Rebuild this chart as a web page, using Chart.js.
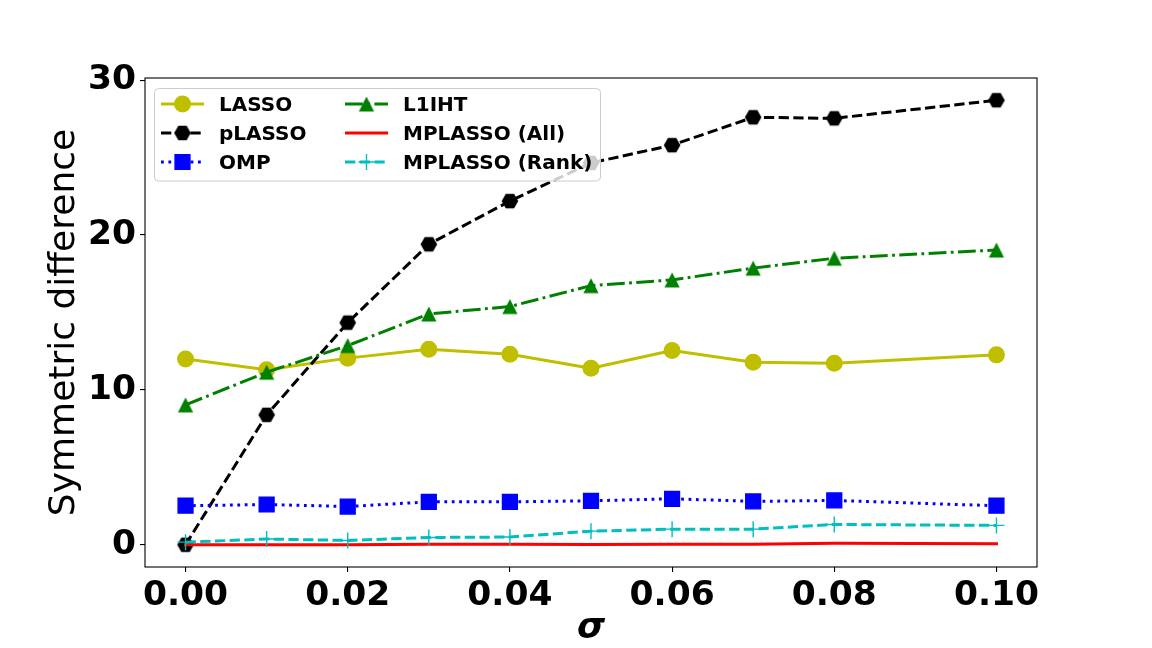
<!DOCTYPE html>
<html>
<head>
<meta charset="utf-8">
<script src="https://cdn.jsdelivr.net/npm/chart.js@4.4.1/dist/chart.umd.min.js"></script>
<style>
  html, body { margin: 0; padding: 0; background: #ffffff; }
  #wrap { width: 1152px; height: 648px; position: relative; }
</style>
</head>
<body>
<div id="wrap"><canvas id="c" width="1152" height="648"></canvas></div>
<script>
// ---- data ----
const sigma = [0, 0.01, 0.02, 0.03, 0.04, 0.05, 0.06, 0.07, 0.08, 0.10];
const lasso = [12.0, 11.3, 12.05, 12.63, 12.3, 11.4, 12.54, 11.79, 11.72, 12.26];
const plasso = [0.0, 8.39, 14.34, 19.4, 22.19, 24.65, 25.8, 27.6, 27.53, 28.7];
const omp = [2.52, 2.6, 2.47, 2.77, 2.77, 2.84, 2.97, 2.8, 2.86, 2.52];
const l1iht = [9.03, 11.14, 12.86, 14.9, 15.38, 16.73, 17.1, 17.86, 18.5, 19.03];
const mplassoAll = [0, 0, 0, 0.03, 0.03, 0.02, 0.03, 0.03, 0.1, 0.07];
const mplassoRank = [0.17, 0.37, 0.28, 0.47, 0.5, 0.88, 1.01, 1.01, 1.31, 1.25];
const seriesNames = ['LASSO', 'pLASSO', 'OMP', 'L1IHT', 'MPLASSO (All)', 'MPLASSO (Rank)'];
const xTicks = [0, 0.02, 0.04, 0.06, 0.08, 0.10];
const xTickLabels = ['0.00', '0.02', '0.04', '0.06', '0.08', '0.10'];
const yTicks = [0, 10, 20, 30];
const yTickLabels = ['0', '10', '20', '30'];
const xTitle = 'σ';
const yTitle = 'Symmetric difference';

// ---- marker images ----
function makeCanvas(size, drawFn) {
  const c = document.createElement('canvas');
  c.width = size; c.height = size;
  const g = c.getContext('2d');
  drawFn(g, size / 2);
  return c;
}
const triangleImg = makeCanvas(20, (g, m) => {
  g.fillStyle = '#008000';
  g.beginPath();
  g.moveTo(m, m - 7.6);
  g.lineTo(m + 7.6, m + 7.4);
  g.lineTo(m - 7.6, m + 7.4);
  g.closePath();
  g.fill();
});
const hexImg = makeCanvas(20, (g, m) => {
  g.fillStyle = '#000000';
  g.beginPath();
  const R = 8.3;
  for (let k = 0; k < 6; k++) {
    const a = k * Math.PI / 3;
    const px = m + R * Math.cos(a), py = m + R * Math.sin(a);
    if (k === 0) g.moveTo(px, py); else g.lineTo(px, py);
  }
  g.closePath();
  g.fill();
});

const LW = 3;
const dashed = [10.3, 4.4];
const dashdot = [17.8, 4.4, 2.8, 4.4];
const dotted = [2.8, 4.6];

function pts(arr) { return sigma.map((x, i) => ({ x: x, y: arr[i] })); }

const styles = [
  { color: '#bfbf00', dash: [], marker: 'circle', radius: 7.8, bw: 1.4 },
  { color: '#000000', dash: dashed, marker: hexImg, radius: 8, bw: 0 },
  { color: '#0000ff', dash: dotted, marker: 'rect', radius: 10.5, bw: 1.4 },
  { color: '#008000', dash: dashdot, marker: triangleImg, radius: 8, bw: 0 },
  { color: '#ff0000', dash: [], marker: false, radius: 0, bw: 0 },
  { color: '#00bfbf', dash: dashed, marker: 'cross', radius: 8, bw: 1.4 },
];
const seriesData = [lasso, plasso, omp, l1iht, mplassoAll, mplassoRank];

const datasets = seriesData.map((arr, i) => {
  const s = styles[i];
  return {
    label: seriesNames[i],
    data: pts(arr),
    borderColor: s.color,
    backgroundColor: s.color,
    borderWidth: LW,
    borderDash: s.dash,
    borderCapStyle: s.dash.length ? 'butt' : 'square',
    borderJoinStyle: 'round',
    pointStyle: s.marker,
    pointRadius: s.marker ? s.radius : 0,
    pointHoverRadius: s.marker ? s.radius : 0,
    pointBorderWidth: s.bw,
    pointBorderColor: s.color,
    pointBackgroundColor: s.color,
    tension: 0,
    fill: false,
    order: 6 - i
  };
});

// ---- overlay plugin: frame + legend ----
const overlay = {
  id: 'overlay',
  afterDatasetsDraw(chart) {
    const ctx = chart.ctx;
    const a = chart.chartArea;
    ctx.save();
    ctx.strokeStyle = '#000000';
    ctx.lineWidth = 1.1;
    ctx.setLineDash([]);
    ctx.strokeRect(a.left, a.top, a.right - a.left, a.bottom - a.top);

    // legend frame
    const lx = 154.5, ly = 88.5, lw = 446, lh = 92.5, r = 4;
    ctx.beginPath();
    ctx.moveTo(lx + r, ly);
    ctx.lineTo(lx + lw - r, ly);
    ctx.arcTo(lx + lw, ly, lx + lw, ly + r, r);
    ctx.lineTo(lx + lw, ly + lh - r);
    ctx.arcTo(lx + lw, ly + lh, lx + lw - r, ly + lh, r);
    ctx.lineTo(lx + r, ly + lh);
    ctx.arcTo(lx, ly + lh, lx, ly + lh - r, r);
    ctx.lineTo(lx, ly + r);
    ctx.arcTo(lx, ly, lx + r, ly, r);
    ctx.closePath();
    ctx.fillStyle = 'rgba(255,255,255,0.8)';
    ctx.fill();
    ctx.strokeStyle = '#cccccc';
    ctx.lineWidth = 1;
    ctx.stroke();

    const cols = [{ h0: 161, h1: 204, t: 219 }, { h0: 345, h1: 388, t: 403 }];
    const rows = [104, 133, 162];
    ctx.font = "bold 20px 'DejaVu Sans'";
    ctx.textBaseline = 'alphabetic';
    ctx.textAlign = 'left';
    for (let i = 0; i < 6; i++) {
      const col = cols[Math.floor(i / 3)];
      const y = rows[i % 3];
      const s = styles[i];
      ctx.strokeStyle = s.color;
      ctx.lineWidth = LW;
      ctx.setLineDash(s.dash);
      ctx.lineDashOffset = 0;
      ctx.lineCap = 'butt';
      ctx.beginPath();
      ctx.moveTo(col.h0, y);
      ctx.lineTo(col.h1, y);
      ctx.stroke();
      ctx.setLineDash([]);
      const mx = (col.h0 + col.h1) / 2;
      if (s.marker) {
        ctx.fillStyle = s.color;
        ctx.strokeStyle = s.color;
        ctx.lineWidth = s.bw;
        if (s.marker === 'circle' || s.marker === 'rect') {
          ctx.beginPath();
          if (s.marker === 'circle') ctx.arc(mx, y, s.radius, 0, Math.PI * 2);
          else { const h = s.radius * Math.SQRT1_2; ctx.rect(mx - h, y - h, 2 * h, 2 * h); }
          ctx.fill(); ctx.stroke();
        } else if (s.marker === 'cross') {
          ctx.beginPath();
          ctx.moveTo(mx - s.radius, y); ctx.lineTo(mx + s.radius, y);
          ctx.moveTo(mx, y - s.radius); ctx.lineTo(mx, y + s.radius);
          ctx.stroke();
        } else {
          ctx.drawImage(s.marker, mx - s.marker.width / 2, y - s.marker.height / 2);
        }
      }
      ctx.fillStyle = '#000000';
      ctx.fillText(seriesNames[i], col.t, y + 7.3);
    }
    ctx.restore();
  }
};

const tickFont = { family: "'DejaVu Sans'", size: 34.5, weight: 'bold' };

new Chart(document.getElementById('c'), {
  type: 'line',
  data: { datasets: datasets },
  plugins: [overlay],
  options: {
    responsive: false,
    devicePixelRatio: 1,
    animation: false,
    events: [],
    layout: { padding: { left: 0, top: 78, right: 115, bottom: 0 } },
    plugins: { legend: { display: false }, tooltip: { enabled: false } },
    scales: {
      x: {
        type: 'linear',
        min: -0.005,
        max: 0.105,
        afterBuildTicks(scale) { scale.ticks = xTicks.map(v => ({ value: v })); },
        afterFit(scale) { scale.height = 81; },
        ticks: {
          font: tickFont, color: '#000000', padding: 3, maxRotation: 0, autoSkip: false,
          callback: (v) => { const k = xTicks.findIndex(t => Math.abs(t - v) < 1e-9); return k >= 0 ? xTickLabels[k] : ''; }
        },
        grid: { display: true, drawOnChartArea: false, drawTicks: true, tickLength: 5, color: '#000000', lineWidth: 1.1 },
        border: { display: false },
        title: {
          display: true, text: xTitle, color: '#000000',
          font: { family: "'DejaVu Sans'", size: 36, weight: 'bold', style: 'italic', lineHeight: 1 },
          padding: { top: 0, bottom: 1 }
        }
      },
      y: {
        type: 'linear',
        min: -1.435,
        max: 30.135,
        afterBuildTicks(scale) { scale.ticks = yTicks.map(v => ({ value: v })); },
        afterFit(scale) { scale.width = 145; },
        ticks: {
          font: tickFont, color: '#000000', padding: 4, autoSkip: false,
          callback: (v) => { const k = yTicks.indexOf(v); return k >= 0 ? yTickLabels[k] : ''; }
        },
        grid: { display: true, drawOnChartArea: false, drawTicks: true, tickLength: 5, color: '#000000', lineWidth: 1.1 },
        border: { display: false },
        title: {
          display: true, text: yTitle, color: '#000000',
          font: { family: "'DejaVu Sans'", size: 36, weight: 'normal', lineHeight: 1.2 },
          padding: { top: 43, bottom: 0 }
        }
      }
    }
  }
});
</script>
</body>
</html>
